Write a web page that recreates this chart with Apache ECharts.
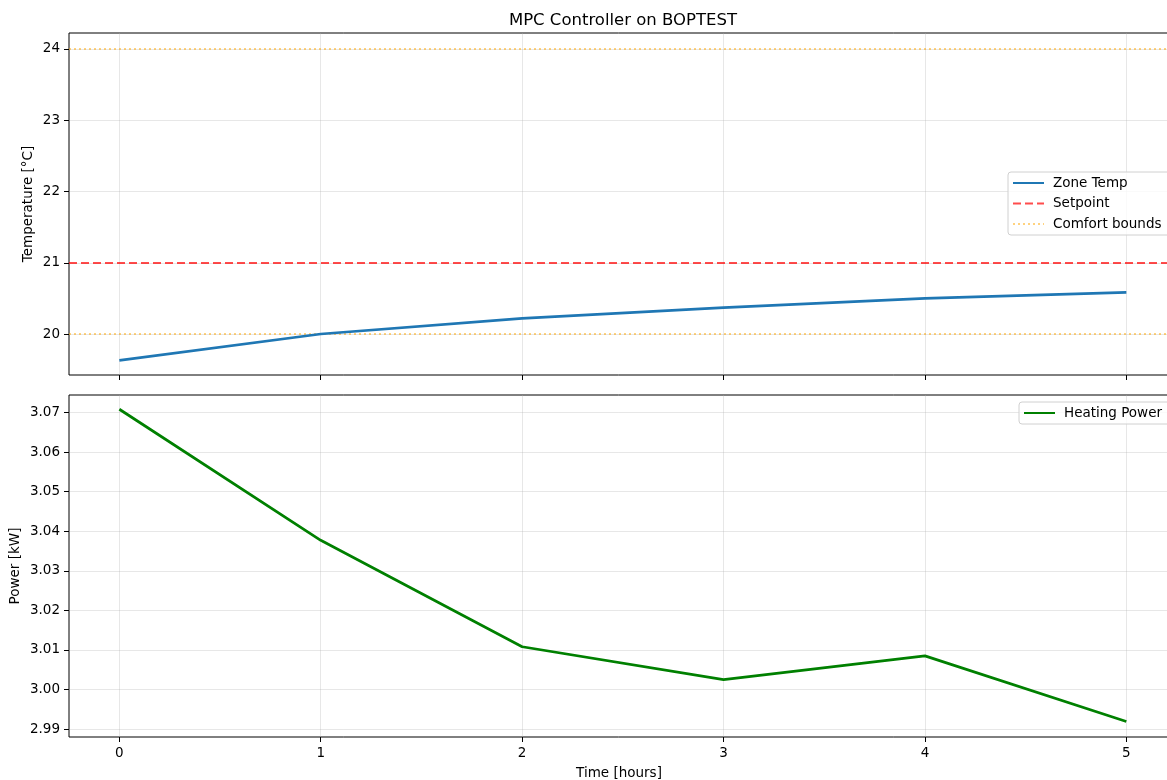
<!DOCTYPE html>
<html>
<head>
<meta charset="utf-8">
<script src="https://cdn.jsdelivr.net/npm/echarts@6/dist/echarts.min.js"></script>
<style>
  html, body { margin: 0; padding: 0; background: #fff; }
  #chart { width: 1167px; height: 780px; }
</style>
</head>
<body>
<div id="chart"></div>
<script>
// data
const hours = [0, 1, 2, 3, 4, 5];
const zoneTemp = [19.63, 20.0, 20.22, 20.37, 20.5, 20.585];
const heatingPower = [3.0708, 3.0377, 3.0108, 3.0025, 3.0085, 2.9919];
const setpoint = 21;
const comfortBounds = [20, 24];
const tempTicks = [20, 21, 22, 23, 24];
const powerTicks = [2.99, 3.0, 3.01, 3.02, 3.03, 3.04, 3.05, 3.06, 3.07];

const FONT = 'DejaVu Sans';
const gridLine = { show: true, lineStyle: { color: 'rgba(176,176,176,0.3)', width: 1 } };

function pairs(xs, ys) {
  return xs.map(function (x, i) { return [x, ys[i]]; });
}

// right spine is cut off by the picture edge, so the plot runs a little past it
function xAxisFor(gridIndex, showLabels) {
  return {
    type: 'value',
    gridIndex: gridIndex,
    min: -0.25,
    max: 5.2118,
    axisLine: { show: false, onZero: false },
    axisTick: { show: true, length: 5, lineStyle: { color: '#000' }, customValues: hours },
    axisLabel: {
      show: showLabels, customValues: hours, margin: 9,
      color: '#000', fontFamily: FONT, fontSize: 13.5
    },
    splitLine: gridLine,
    name: showLabels ? 'Time [hours]' : '',
    nameLocation: 'middle',
    nameGap: 29,
    nameMoveOverlap: false,
    nameTextStyle: { color: '#000', fontFamily: FONT, fontSize: 13.5 }
  };
}

function yAxisFor(gridIndex, min, max, ticks, name, gap, digits) {
  return {
    type: 'value',
    gridIndex: gridIndex,
    min: min,
    max: max,
    axisLine: { show: false, onZero: false },
    axisTick: { show: true, length: 5, lineStyle: { color: '#000' }, customValues: ticks },
    axisLabel: {
      customValues: ticks, margin: 9, color: '#000', fontFamily: FONT, fontSize: 13.5,
      formatter: function (v) { return v.toFixed(digits); }
    },
    splitLine: gridLine,
    name: name,
    nameLocation: 'middle',
    nameGap: gap,
    nameMoveOverlap: false,
    nameTextStyle: { color: '#000', fontFamily: FONT, fontSize: 13.5 }
  };
}

const legendBox = {
  orient: 'vertical',
  backgroundColor: 'rgba(255,255,255,0.8)',
  borderColor: '#d0d0d0',
  borderWidth: 1,
  borderRadius: 3,
  itemWidth: 31,
  itemHeight: 14,
  itemGap: 6.5,
  itemStyle: { opacity: 0 },
  textStyle: { color: '#000', fontFamily: FONT, fontSize: 13.5, lineHeight: 14, padding: [0, 0, 0, 4] }
};

const gridBase = {
  left: 69, width: 1100, height: 342, show: true,
  borderColor: '#000', borderWidth: 1, backgroundColor: 'transparent',
  containLabel: false, outerBoundsMode: 'none'
};

const chart = echarts.init(document.getElementById('chart'));
chart.setOption({
  animation: false,
  backgroundColor: '#fff',
  title: {
    text: 'MPC Controller on BOPTEST',
    left: 623,
    top: 12,
    textAlign: 'center',
    padding: 0,
    textStyle: { color: '#000', fontFamily: FONT, fontSize: 16.5, fontWeight: 'normal' }
  },
  legend: [
    Object.assign({}, legendBox, {
      left: 1008, top: 172, padding: [4, 20, 4, 4],
      data: ['Zone Temp', 'Setpoint', 'Comfort bounds']
    }),
    Object.assign({}, legendBox, {
      left: 1019, top: 402, padding: [4, 20, 4, 4],
      data: ['Heating Power']
    })
  ],
  grid: [
    Object.assign({}, gridBase, { top: 33 }),
    Object.assign({}, gridBase, { top: 395 })
  ],
  xAxis: [xAxisFor(0, false), xAxisFor(1, true)],
  yAxis: [
    yAxisFor(0, 19.425, 24.224, tempTicks, 'Temperature [°C]', 34, 0),
    yAxisFor(1, 2.988, 3.0744, powerTicks, 'Power [kW]', 47, 2)
  ],
  series: [
    {
      name: 'Zone Temp', type: 'line', xAxisIndex: 0, yAxisIndex: 0,
      data: pairs(hours, zoneTemp), showSymbol: false, symbol: 'none',
      lineStyle: { color: '#1f77b4', width: 2.7 }, itemStyle: { color: '#1f77b4' }, z: 5
    },
    {
      name: 'Setpoint', type: 'line', xAxisIndex: 0, yAxisIndex: 0, data: [], symbol: 'none',
      lineStyle: { color: 'rgba(255,0,0,0.7)', width: 2, type: [8, 4] },
      itemStyle: { color: 'rgba(255,0,0,0.7)' },
      markLine: {
        silent: true, symbol: 'none', label: { show: false },
        lineStyle: { color: 'rgba(255,0,0,0.7)', width: 2, type: [8, 4] },
        data: [{ yAxis: setpoint }]
      }
    },
    {
      name: 'Comfort bounds', type: 'line', xAxisIndex: 0, yAxisIndex: 0, data: [], symbol: 'none',
      lineStyle: { color: 'rgba(255,165,0,0.5)', width: 2, type: [2, 3] },
      itemStyle: { color: 'rgba(255,165,0,0.5)' },
      markLine: {
        silent: true, symbol: 'none', label: { show: false },
        lineStyle: { color: 'rgba(255,165,0,0.5)', width: 2, type: [2, 3] },
        data: comfortBounds.map(function (v) { return { yAxis: v }; })
      }
    },
    {
      name: 'Heating Power', type: 'line', xAxisIndex: 1, yAxisIndex: 1,
      data: pairs(hours, heatingPower), showSymbol: false, symbol: 'none',
      lineStyle: { color: '#008000', width: 2.7 }, itemStyle: { color: '#008000' }
    }
  ]
});
</script>
</body>
</html>
